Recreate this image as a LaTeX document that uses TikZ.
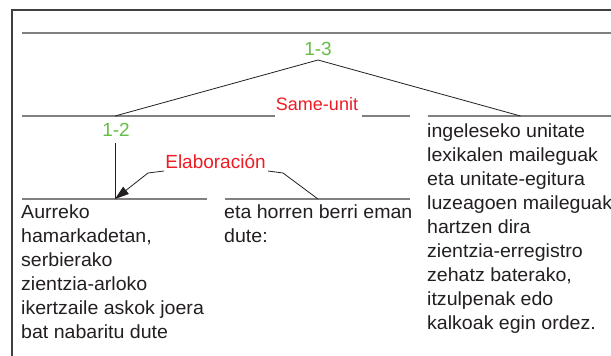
\documentclass[tikz,border=0pt]{standalone}
\usepackage{fontspec}
\setmainfont{Liberation Sans}
\newfontfamily\bodyfont[FakeStretch=1.03]{Liberation Sans}
\usetikzlibrary{arrows.meta}
\definecolor{spangray}{RGB}{128,128,128}
\definecolor{framegray}{RGB}{64,64,64}
\definecolor{nucgreen}{RGB}{100,190,70}
\definecolor{relred}{RGB}{237,28,36}
\definecolor{ink}{RGB}{35,31,32}

\begin{document}
\begin{tikzpicture}[x=1pt,y=-1pt,
  span/.style={draw=spangray,line width=2pt},
  edge/.style={draw=ink,line width=0.8pt},
  seg/.style={font=\bodyfont\fontsize{19}{24}\selectfont,text=ink,align=left,anchor=north west,inner sep=0pt},
  idx/.style={font=\fontsize{19}{24}\selectfont,text=nucgreen,inner sep=0pt,anchor=base},
  rel/.style={font=\fontsize{19}{24}\selectfont,text=relred,inner sep=0pt,anchor=base},
]
\useasboundingbox (0,0) rectangle (611,356);
\fill[white] (0,0) rectangle (611,356);

% outer frame
\draw[framegray,line width=1.5pt] (12,356) -- (12,10) -- (611,10);

% span lines
\draw[span] (22,33) -- (611,33);
\draw[span] (22,116) -- (275,116);
\draw[span] (362,116) -- (410,116);
\draw[span] (428,116) -- (611,116);
\draw[span] (22,199) -- (207,199);
\draw[span] (225,199) -- (410,199);

% labels
\node[idx] (n13) at (318,55) {1-3};
\node[rel,font=\fontsize{18}{24}\selectfont] (su) at (317,110.5) {Same-unit};
\node[idx] (n12) at (116,136) {1-2};
\node[rel] (elab) at (215.5,168) {Elaboración};

% segments
\node[seg] (s1) at (21,205) {Aurreko\\hamarkadetan,\\serbierako\\zientzia-arloko\\ikertzaile askok joera\\bat nabaritu dute};
\node[seg] (s2) at (224,205) {eta horren berri eman\\dute:};
\node[seg] (s3) at (427,123.5) {ingeleseko unitate\\lexikalen maileguak\\eta unitate-egitura\\luzeagoen maileguak\\hartzen dira\\zientzia-erregistro\\zehatz baterako,\\itzulpenak edo\\kalkoak egin ordez.};

% tree structure
\coordinate (top) at (318,60);
\coordinate (left12) at (115,116);
\coordinate (right3) at (520.5,116);
\coordinate (v12) at (115,143);
\coordinate (nuc) at (115,199);
\coordinate (sat) at (318,199);
\coordinate (ea) at (164,171);
\coordinate (eb) at (148,173);
\coordinate (ec) at (268,171);
\coordinate (ed) at (283,173);

\draw[edge] (left12) -- (top) -- (right3);
\draw[edge] (v12) -- (nuc);
\draw[edge,-{Triangle[length=14pt,width=9pt]}] (ea) -- (eb) -- (nuc);
\draw[edge] (ec) -- (ed) -- (sat);
\end{tikzpicture}
\end{document}
